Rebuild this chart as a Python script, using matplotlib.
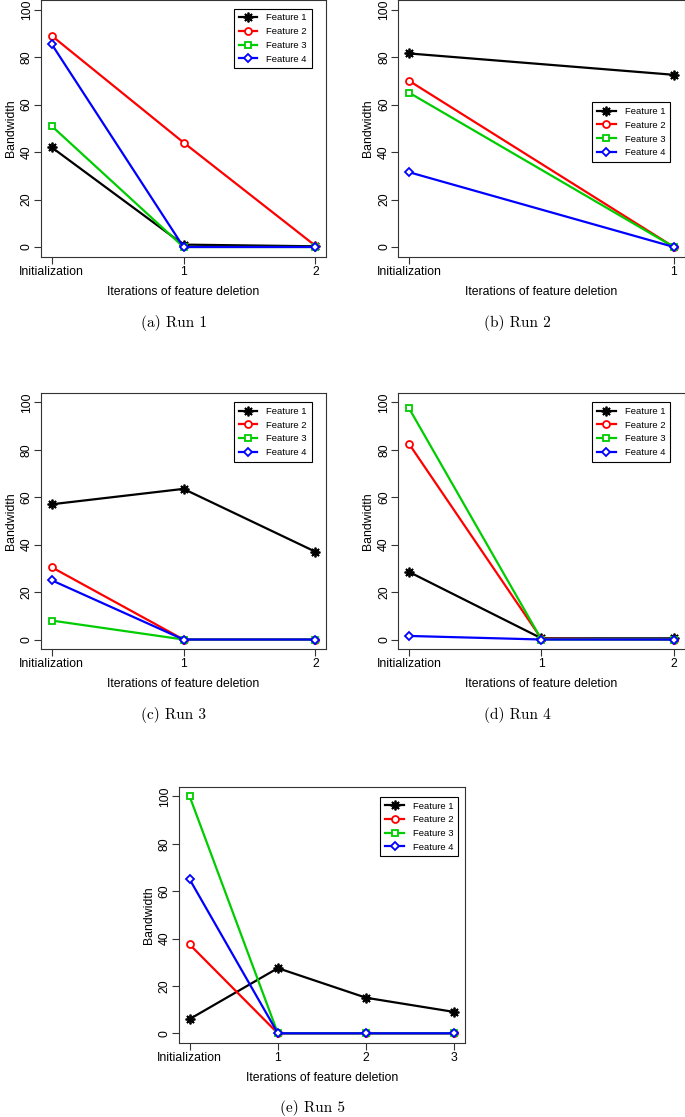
import matplotlib
matplotlib.use("Agg")
import matplotlib.pyplot as plt

plt.rcParams['font.family'] = ['Liberation Sans', 'DejaVu Sans']

W, H = 685, 1117

features = ["Feature 1", "Feature 2", "Feature 3", "Feature 4"]
line_colors = ["black", "#FF0000", "#00CD00", "#0000FF"]
markers = [(8, 2, 0), "o", "s", "D"]

# x tick labels of each run
iters_run1 = ["Initialization", "1", "2"]
iters_run2 = ["Initialization", "1"]
iters_run3 = ["Initialization", "1", "2"]
iters_run4 = ["Initialization", "1", "2"]
iters_run5 = ["Initialization", "1", "2", "3"]

# bandwidth of feature 1..4 per run
run1 = [[42, 1, 0.3], [89, 44, 0.5], [51, 0, 0], [85.5, 0, 0]]
run2 = [[81.5, 72.5], [70, 0], [65, 0], [31.5, 0]]
run3 = [[57, 63.5, 37], [30.5, 0, 0], [8, 0, 0], [25, 0, 0]]
run4 = [[28.5, 0.5, 0.5], [82.5, 0.3, 0], [97.5, 0, 0], [1.5, 0, 0]]
run5 = [[6, 27.5, 15, 9], [37.5, 0, 0, 0], [100, 0, 0, 0], [65, 0, 0, 0]]


def place(fig, left, top, right, bottom):
    return fig.add_axes([left / W, 1 - bottom / H, (right - left) / W, (bottom - top) / H])


def draw_run(fig, box, labels, values, leg_anchor, caption, cap_xy):
    ax = place(fig, *box)
    x = list(range(len(labels)))
    for vals, name, c, m in zip(values, features, line_colors, markers):
        if m == "o":
            ms = 5
        elif m == "s":
            ms = 4.3
        elif m == "D":
            ms = 4.3
        else:
            ms = 7
        ax.plot(x, vals, color=c, lw=1.6, marker=m, markersize=ms,
                markerfacecolor="white", markeredgecolor=c, markeredgewidth=1.3,
                label=name)
    pad = 0.04 * (len(labels) - 1)
    ax.set_xlim(-pad, len(labels) - 1 + pad)
    ax.set_ylim(-4, 104)
    ax.set_xticks(x)
    ax.set_xticklabels(labels)
    ax.set_yticks(range(0, 101, 20))
    ax.tick_params(axis="both", labelsize=8.8, length=5, width=0.8, color="#333333")
    ax.tick_params(axis="x", pad=1.5)
    ax.tick_params(axis="y", pad=1, labelrotation=90)
    for lab in ax.get_yticklabels():
        lab.set_va("center")
    for s in ax.spines.values():
        s.set_linewidth(0.8)
        s.set_color("#333333")
    ax.set_xlabel("Iterations of feature deletion", fontsize=8.8, labelpad=6)
    ax.set_ylabel("Bandwidth", fontsize=8.8, labelpad=3)
    leg = ax.legend(loc="upper right", bbox_to_anchor=leg_anchor, borderaxespad=0,
                    fontsize=6.8, handlelength=2.0, labelspacing=0.5, borderpad=0.5,
                    handletextpad=0.95, fancybox=False,
                    framealpha=1, edgecolor="black")
    leg.get_frame().set_linewidth(0.8)
    fig.text(cap_xy[0] / W, 1 - cap_xy[1] / H, caption, ha="center", va="center",
             fontfamily="cmr10", fontsize=11)
    return ax


fig = plt.figure(figsize=(W / 100, H / 100), dpi=100)

draw_run(fig, (41, 0, 326, 256.5), iters_run1, run1, (0.95, 0.966), "(a) Run 1", (174, 323))
draw_run(fig, (398.4, 0, 684.5, 256.5), iters_run2, run2, (0.949, 0.601), "(b) Run 2", (517, 323))
draw_run(fig, (41, 392.8, 326, 649), iters_run3, run3, (0.95, 0.963), "(c) Run 3", (174, 715))
draw_run(fig, (398.4, 392.8, 684.5, 649), iters_run4, run4, (0.949, 0.963), "(d) Run 4", (517, 715))
draw_run(fig, (179, 786.8, 465, 1042.8), iters_run5, run5, (0.977, 0.961), "(e) Run 5", (312, 1108))

fig.savefig("out.png", dpi=100)
